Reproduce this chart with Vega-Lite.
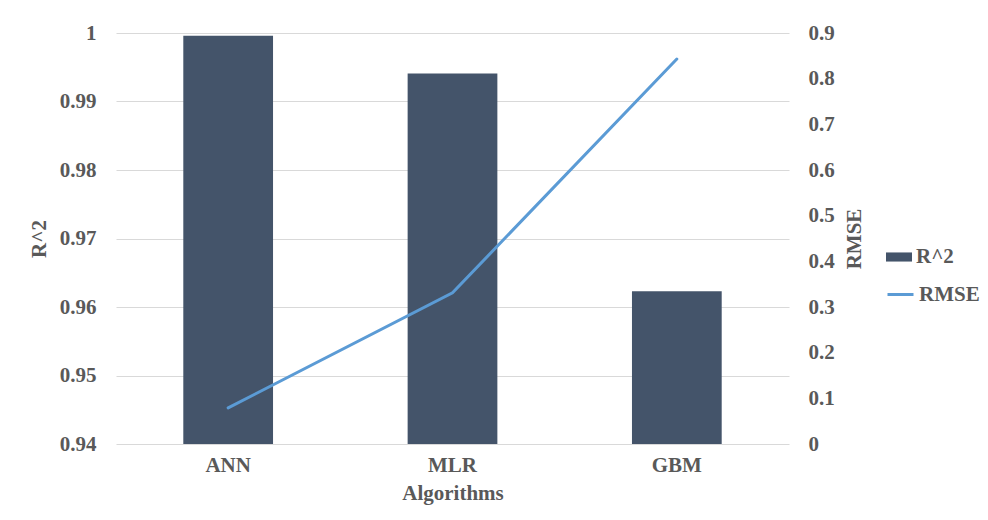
{
  "$schema": "https://vega.github.io/schema/vega-lite/v6.json",
  "autosize": {"type": "none"},
  "width": 673,
  "height": 411,
  "padding": {"left": 116, "top": 33, "right": 199, "bottom": 76},
  "background": "white",
  "config": {
    "view": {"stroke": null},
    "font": "Liberation Serif",
    "axis": {
      "labelFont": "Liberation Serif", "labelFontSize": 21, "labelFontWeight": "bold", "labelColor": "#595959",
      "titleFont": "Liberation Serif", "titleFontSize": 21, "titleFontWeight": "bold", "titleColor": "#595959",
      "domain": false, "ticks": false, "gridColor": "#D9D9D9", "gridWidth": 1
    },
    "legend": {
      "labelFont": "Liberation Serif", "labelFontSize": 21, "labelFontWeight": "bold", "labelColor": "#595959"
    }
  },
  "data": {
    "values": [
      {"algorithm": "ANN", "r2": 0.9996, "rmse": 0.079},
      {"algorithm": "MLR", "r2": 0.9941, "rmse": 0.331},
      {"algorithm": "GBM", "r2": 0.9623, "rmse": 0.843}
    ]
  },
  "encoding": {
    "x": {
      "field": "algorithm", "type": "nominal", "sort": ["ANN", "MLR", "GBM"],
      "scale": {"paddingInner": 0.6, "paddingOuter": 0.3},
      "axis": {"title": "Algorithms", "labelAngle": 0, "labelPadding": 10, "titlePadding": 7, "grid": false}
    }
  },
  "layer": [
    {
      "mark": {"type": "bar"},
      "encoding": {
        "y": {
          "field": "r2", "type": "quantitative",
          "scale": {"domain": [0.94, 1], "zero": false, "nice": false},
          "axis": {"title": "R^2", "format": "~g", "values": [0.94, 0.95, 0.96, 0.97, 0.98, 0.99, 1], "labelPadding": 20, "titlePadding": 10, "grid": true}
        },
        "y2": {"datum": 0.94},
        "fill": {
          "datum": "R^2",
          "scale": {"range": ["#44546A"]},
          "legend": {"title": null, "orient": "none", "legendX": 770, "legendY": 211, "symbolType": "M-1,-0.35H1V0.35H-1Z", "symbolSize": 676, "symbolStrokeWidth": 0}
        }
      }
    },
    {
      "mark": {"type": "line", "strokeWidth": 3, "strokeCap": "round"},
      "encoding": {
        "y": {
          "field": "rmse", "type": "quantitative",
          "scale": {"domain": [0, 0.9], "nice": false},
          "axis": {"title": "RMSE", "orient": "right", "format": "~g", "values": [0, 0.1, 0.2, 0.3, 0.4, 0.5, 0.6, 0.7, 0.8, 0.9], "labelPadding": 19, "titlePadding": 30, "titleAngle": -90, "grid": false}
        },
        "stroke": {
          "datum": "RMSE",
          "scale": {"range": ["#5B9BD5"]},
          "legend": {"title": null, "orient": "none", "legendX": 770, "legendY": 247, "symbolType": "stroke", "symbolSize": 676, "symbolStrokeWidth": 3}
        }
      }
    }
  ],
  "resolve": {"scale": {"y": "independent"}}
}
